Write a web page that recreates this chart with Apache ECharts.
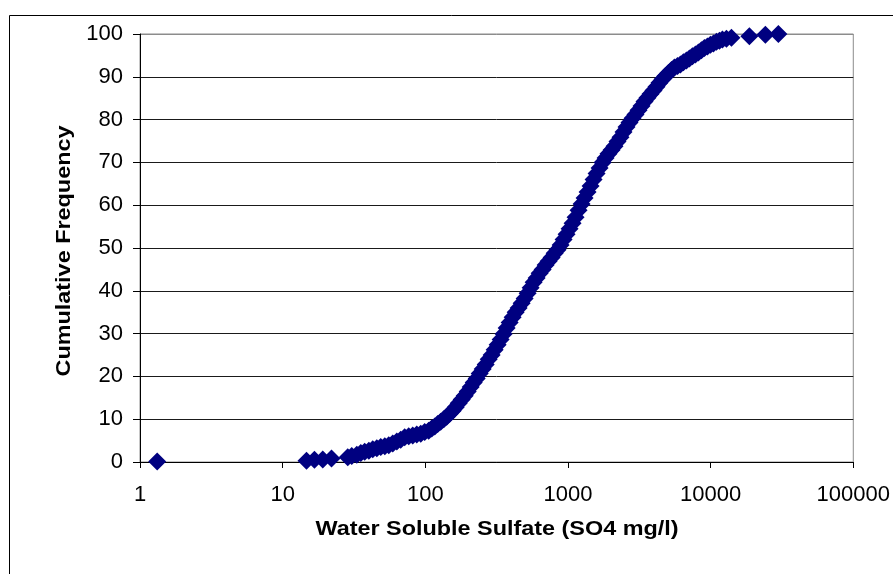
<!DOCTYPE html>
<html>
<head>
<meta charset="utf-8">
<script src="https://cdn.jsdelivr.net/npm/echarts@6/dist/echarts.min.js"></script>
<style>
  html, body { margin: 0; padding: 0; background: #fff; }
  #chart { width: 893px; height: 574px; }
</style>
</head>
<body>
<div id="chart"></div>
<script>
// Water soluble sulfate concentration (SO4 mg/l), sorted ascending
const sulfate = [
  1.32, 14.7, 16.7, 19.1, 22.0,
  28.6, 30.5, 33.1, 35.3, 37.6, 40.2, 42.8, 45.7, 48.7, 52.0,
  55.4, 59.1, 63.1, 67.2, 71.7, 76.5, 81.6, 87.1, 92.9, 99.0,
  105.6, 110.9, 116.4, 122.1, 128.2, 134.6, 141.2, 148.2, 155.6, 163.3,
  171.4, 179.9, 188.8, 198.2, 208.0, 218.3, 229.1, 240.5, 252.4, 264.9,
  278.0, 291.7, 306.2, 321.4, 337.3, 354.0, 371.5, 390.0, 409.3, 429.6,
  450.9, 473.2, 496.7, 521.3, 547.1, 574.2, 602.7, 632.6, 663.9, 696.8,
  731.3, 767.8, 805.8, 845.7, 887.7, 931.7, 977.7, 1026, 1077, 1130,
  1186, 1245, 1307, 1372, 1440, 1511, 1586, 1665, 1747, 1834,
  1924, 2020, 2120, 2225, 2335, 2451, 2573, 2700, 2834, 2974,
  3122, 3277, 3439, 3609, 3788, 3976, 4173, 4380, 4597, 4825,
  5064, 5315, 5578, 5855, 6145, 6449, 6769, 7104, 7456, 7826,
  8214, 8621, 9048, 9497, 9968, 10462, 10980, 11525, 12096, 12900,
  13986, 18696, 24196, 29842
];

// Cumulative frequency (%) for each sample above
const cumFreq = [
  0.1, 0.3, 0.5, 0.6, 0.8,
  1.1, 1.4, 1.7, 2.1, 2.4, 2.6, 3.0, 3.2, 3.5, 3.7,
  3.9, 4.3, 4.8, 5.2, 5.8, 6.0, 6.2, 6.4, 6.6, 7.0,
  7.3, 7.8, 8.3, 8.9, 9.4, 10.0, 10.6, 11.3, 12.0, 12.8,
  13.7, 14.6, 15.5, 16.5, 17.5, 18.6, 19.5, 20.7, 21.7, 22.8,
  24.0, 25.0, 26.2, 27.4, 28.6, 29.9, 31.3, 32.6, 33.8, 35.0,
  36.0, 37.1, 38.2, 39.4, 40.7, 42.0, 43.0, 44.1, 45.0, 46.0,
  46.9, 47.8, 48.8, 49.6, 50.7, 52.0, 53.2, 54.5, 55.8, 57.2,
  58.8, 60.3, 61.7, 63.1, 64.5, 66.0, 67.4, 68.7, 70.0, 71.0,
  72.0, 72.9, 73.8, 74.9, 75.9, 77.1, 78.3, 79.3, 80.3, 81.2,
  82.2, 83.2, 84.2, 85.1, 86.0, 86.8, 87.7, 88.6, 89.4, 90.2,
  90.9, 91.6, 92.2, 92.5, 92.9, 93.4, 93.8, 94.3, 94.8, 95.2,
  95.7, 96.2, 96.7, 97.1, 97.5, 97.8, 98.2, 98.4, 98.7, 98.9,
  99.1, 99.5, 99.8, 100
];

// Axis settings
const xRange = [1, 100000];
const yRange = [0, 100];
const yStep = 10;
const xTitle = 'Water Soluble Sulfate (SO4 mg/l)';
const yTitle = 'Cumulative Frequency';

const points = sulfate.map((v, i) => [v, cumFreq[i]]);
const font = '"Liberation Sans", Arial, sans-serif';

// Gridlines are black; the line at the top edge is grey like the plot frame
const gridColors = [];
for (let v = yRange[0]; v <= yRange[1]; v += yStep) {
  gridColors.push(v === yRange[1] ? '#8c8c8c' : '#1a1a1a');
}

const titleStyle = {
  fontFamily: font, fontSize: 20, fontWeight: 'bold', fill: '#000',
  align: 'center', verticalAlign: 'middle'
};

const chart = echarts.init(document.getElementById('chart'), null, { renderer: 'canvas' });
chart.setOption({
  animation: false,
  backgroundColor: '#ffffff',
  textStyle: { fontFamily: font },
  graphic: [
    {
      // outer chart frame
      type: 'rect',
      shape: { x: 9.5, y: 15.5, width: 1000, height: 1000 },
      style: { fill: 'none', stroke: '#000', lineWidth: 1 },
      silent: true,
      z: -1
    },
    {
      // x axis title, set slightly wide
      type: 'text',
      x: 497, y: 529,
      scaleX: 1.17,
      style: Object.assign({ text: xTitle }, titleStyle),
      silent: true
    },
    {
      // y axis title, reading bottom to top
      type: 'text',
      x: 64, y: 251,
      rotation: Math.PI / 2,
      scaleX: 1.17,
      style: Object.assign({ text: yTitle }, titleStyle),
      silent: true
    }
  ],
  grid: {
    left: 140, top: 34, right: 39, bottom: 112,
    show: true, borderColor: '#8c8c8c', borderWidth: 1,
    backgroundColor: 'transparent'
  },
  xAxis: {
    type: 'log',
    logBase: 10,
    min: xRange[0],
    max: xRange[1],
    axisLine: { show: true, onZero: false, lineStyle: { color: '#000', width: 1 } },
    axisTick: { show: true, inside: false, length: 6, lineStyle: { color: '#000' } },
    axisLabel: {
      fontFamily: font, fontSize: 22, color: '#000', margin: 22,
      formatter: v => String(Math.round(v))
    },
    splitLine: { show: false },
    minorTick: { show: false }
  },
  yAxis: {
    type: 'value',
    min: yRange[0],
    max: yRange[1],
    interval: yStep,
    axisLine: { show: true, lineStyle: { color: '#000', width: 1 } },
    axisTick: { show: true, inside: false, length: 7, lineStyle: { color: '#000' } },
    axisLabel: { fontFamily: font, fontSize: 22, color: '#000', margin: 17 },
    splitLine: { show: true, lineStyle: { color: gridColors, width: 1 } }
  },
  series: [{
    type: 'scatter',
    data: points,
    symbol: 'diamond',
    symbolSize: 18,
    itemStyle: { color: '#000080', opacity: 1 },
    emphasis: { disabled: true }
  }]
});
</script>
</body>
</html>
